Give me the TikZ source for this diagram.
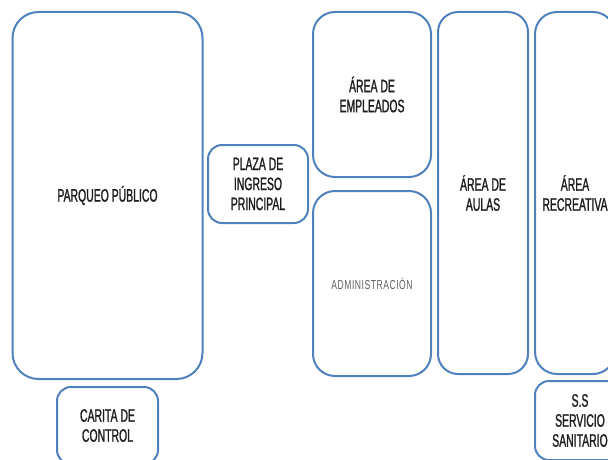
\documentclass[tikz,border=0pt]{standalone}
\usepackage{fontspec}
\setmainfont[FakeStretch=0.58, FakeBold=1.2]{Liberation Sans}
\newfontfamily\delgada[FakeStretch=0.66, LetterSpace=4]{Liberation Sans}
\usetikzlibrary{positioning}

\definecolor{borde}{RGB}{79,129,189}
\definecolor{texto}{RGB}{30,30,30}

\begin{document}
\begin{tikzpicture}[x=1pt, y=-1pt,
  zona/.style={draw=borde, line width=2pt, rounded corners=22pt, align=center,
    inner sep=0pt, text=texto, font=\fontsize{18}{20}\selectfont},
  chica/.style={zona, rounded corners=14pt}]
\useasboundingbox (0,0) rectangle (608,460);
\clip (0,0) rectangle (608,460);
% left column: parking and control booth
\node[zona, rounded corners=26pt, minimum width=190pt, minimum height=367pt] (parqueo) at (107.5,195.5) {PARQUEO PÚBLICO};
\node[chica, minimum width=101pt, minimum height=77pt, below=6pt of parqueo] (carita) {CARITA DE\\CONTROL};
\node[chica, minimum width=100pt, minimum height=78pt] (plaza) at (258,184) {PLAZA DE\\INGRESO\\PRINCIPAL};
% staff and administration
\node[zona, minimum width=118pt, minimum height=165pt] (empleados) at (372,94.5) {ÁREA DE\\EMPLEADOS};
\node[zona, minimum width=118pt, minimum height=185pt, below=12pt of empleados, text=gray!75!black,
  font=\delgada\fontsize{13}{14}\selectfont] (admin) {ADMINISTRACIÓN};
% classrooms, recreation, toilets
\node[zona, rounded corners=20pt, minimum width=90pt, minimum height=362pt, right=5pt of empleados.north east, anchor=north west] (aulas) {ÁREA DE\\AULAS};
\node[zona, minimum width=80pt, minimum height=362pt, right=5pt of aulas] (recreativa) {ÁREA\\RECREATIVA};
\node[chica, minimum width=90pt, minimum height=79pt, below=5pt of recreativa.south west, anchor=north west] (sanitario) {S.S\\SERVICIO\\SANITARIO};
\end{tikzpicture}
\end{document}
